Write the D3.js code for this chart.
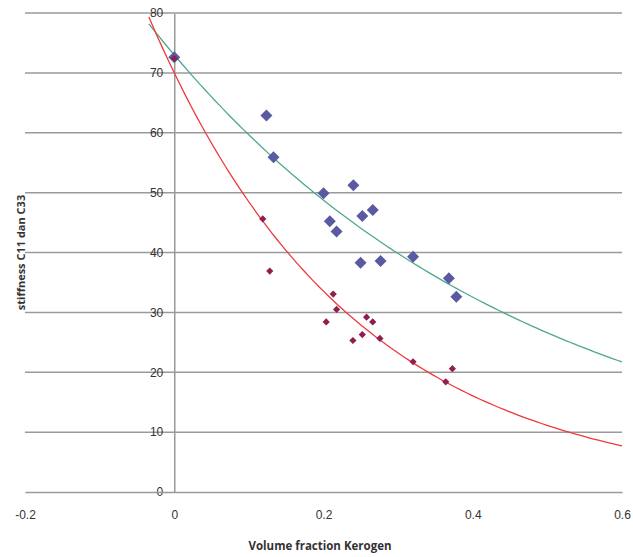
<!DOCTYPE html>
<html>
<head>
<meta charset="utf-8">
<script src="https://cdn.jsdelivr.net/npm/d3@7"></script>
<style>
  body { margin: 0; background: #fff; }
  svg { display: block; font-family: "Open Sans", "DejaVu Sans", sans-serif; }
</style>
</head>
<body>
<div id="chart"></div>
<script>
// volume fraction kerogen vs stiffness, C11 (blue) and C33 (red)
const c11X = [0.0, 0.1235, 0.133, 0.2, 0.24, 0.2085, 0.2175, 0.252, 0.266, 0.2497, 0.2765, 0.32, 0.368, 0.378];
const c11Y = [72.6, 62.9, 55.9, 49.9, 51.25, 45.2, 43.5, 46.1, 47.1, 38.3, 38.6, 39.3, 35.7, 32.6];

const c33X = [0.0, 0.1186, 0.128, 0.213, 0.2175, 0.2036, 0.2577, 0.266, 0.252, 0.2394, 0.2756, 0.32, 0.3727, 0.3638];
const c33Y = [72.4, 45.6, 36.9, 33.05, 30.5, 28.4, 29.2, 28.4, 26.3, 25.3, 25.65, 21.75, 20.6, 18.4];

// exponential trendlines y = a * exp(b * x)
const c11Trend = { a: 73, b: -2.02 };
const c33Trend = { a: 70, b: -3.68 };
const trendRange = [-0.034, 0.6];

const xTicks = [-0.2, 0, 0.2, 0.4, 0.6];
const xTickLabels = ["-0.2", "0", "0.2", "0.4", "0.6"];
const yTicks = [0, 10, 20, 30, 40, 50, 60, 70, 80];

const width = 633, height = 557;
const margin = { top: 13, right: 11, bottom: 65, left: 25 };

const svg = d3.select("#chart").append("svg")
  .attr("width", width)
  .attr("height", height);

const x = d3.scaleLinear().domain([-0.2, 0.6]).range([margin.left, width - margin.right]);
const y = d3.scaleLinear().domain([0, 80]).range([height - margin.bottom, margin.top]);

// horizontal gridlines
svg.append("g")
  .selectAll("line")
  .data(yTicks.filter(d => d > 0))
  .join("line")
  .attr("x1", x(-0.2)).attr("x2", x(0.6))
  .attr("y1", d => y(d)).attr("y2", d => y(d))
  .style("stroke", "#9a9a9a")
  .style("stroke-width", "1.5px");

// y axis sits at x = 0
const yAxis = svg.append("g")
  .attr("transform", `translate(${x(0)},0)`)
  .call(d3.axisLeft(y).tickValues(yTicks).tickSize(0).tickPadding(11));
yAxis.select(".domain").style("stroke", "#9a9a9a").style("stroke-width", "1.5px");
yAxis.selectAll("text").style("font-size", "12px").style("fill", "#333");

// x axis at y = 0
const xAxis = svg.append("g")
  .attr("transform", `translate(0,${y(0)})`)
  .call(d3.axisBottom(x).tickValues(xTicks).tickSize(0).tickPadding(18)
    .tickFormat((d, i) => xTickLabels[i]));
xAxis.select(".domain").style("stroke", "#9a9a9a").style("stroke-width", "1.5px");
xAxis.selectAll("text").style("font-size", "12px").style("fill", "#333");

// trendlines
const line = d3.line().x(d => x(d[0])).y(d => y(d[1]));
const trendPoints = (t) => d3.range(0, 101).map(i => {
  const xv = trendRange[0] + (trendRange[1] - trendRange[0]) * i / 100;
  return [xv, t.a * Math.exp(t.b * xv)];
});

svg.append("path")
  .datum(trendPoints(c11Trend))
  .attr("d", line)
  .style("fill", "none")
  .style("stroke", "#4ea88c")
  .style("stroke-width", "1.3px");

svg.append("path")
  .datum(trendPoints(c33Trend))
  .attr("d", line)
  .style("fill", "none")
  .style("stroke", "#f0383c")
  .style("stroke-width", "1.3px");

// markers
const diamond = (r) => `M0,${-r}L${r},0L0,${r}L${-r},0Z`;

svg.append("g")
  .selectAll("path")
  .data(c11X.map((d, i) => [d, c11Y[i]]))
  .join("path")
  .attr("d", diamond(6))
  .attr("transform", d => `translate(${x(d[0])},${y(d[1])})`)
  .style("fill", "#5a5aa2");

svg.append("g")
  .selectAll("path")
  .data(c33X.map((d, i) => [d, c33Y[i]]))
  .join("path")
  .attr("d", diamond(3.6))
  .attr("transform", d => `translate(${x(d[0])},${y(d[1])})`)
  .style("fill", "#8e1f4f");

// axis titles
svg.append("text")
  .attr("transform", `translate(25, ${(y(0) + y(80)) / 2}) rotate(-90)`)
  .style("text-anchor", "middle")
  .style("font-size", "11px")
  .style("font-weight", "bold")
  .style("fill", "#333")
  .text("stiffness C11 dan C33");

svg.append("text")
  .attr("x", 320)
  .attr("y", 550)
  .style("text-anchor", "middle")
  .style("font-size", "11.5px")
  .style("font-weight", "bold")
  .style("fill", "#333")
  .text("Volume fraction Kerogen");
</script>
</body>
</html>
